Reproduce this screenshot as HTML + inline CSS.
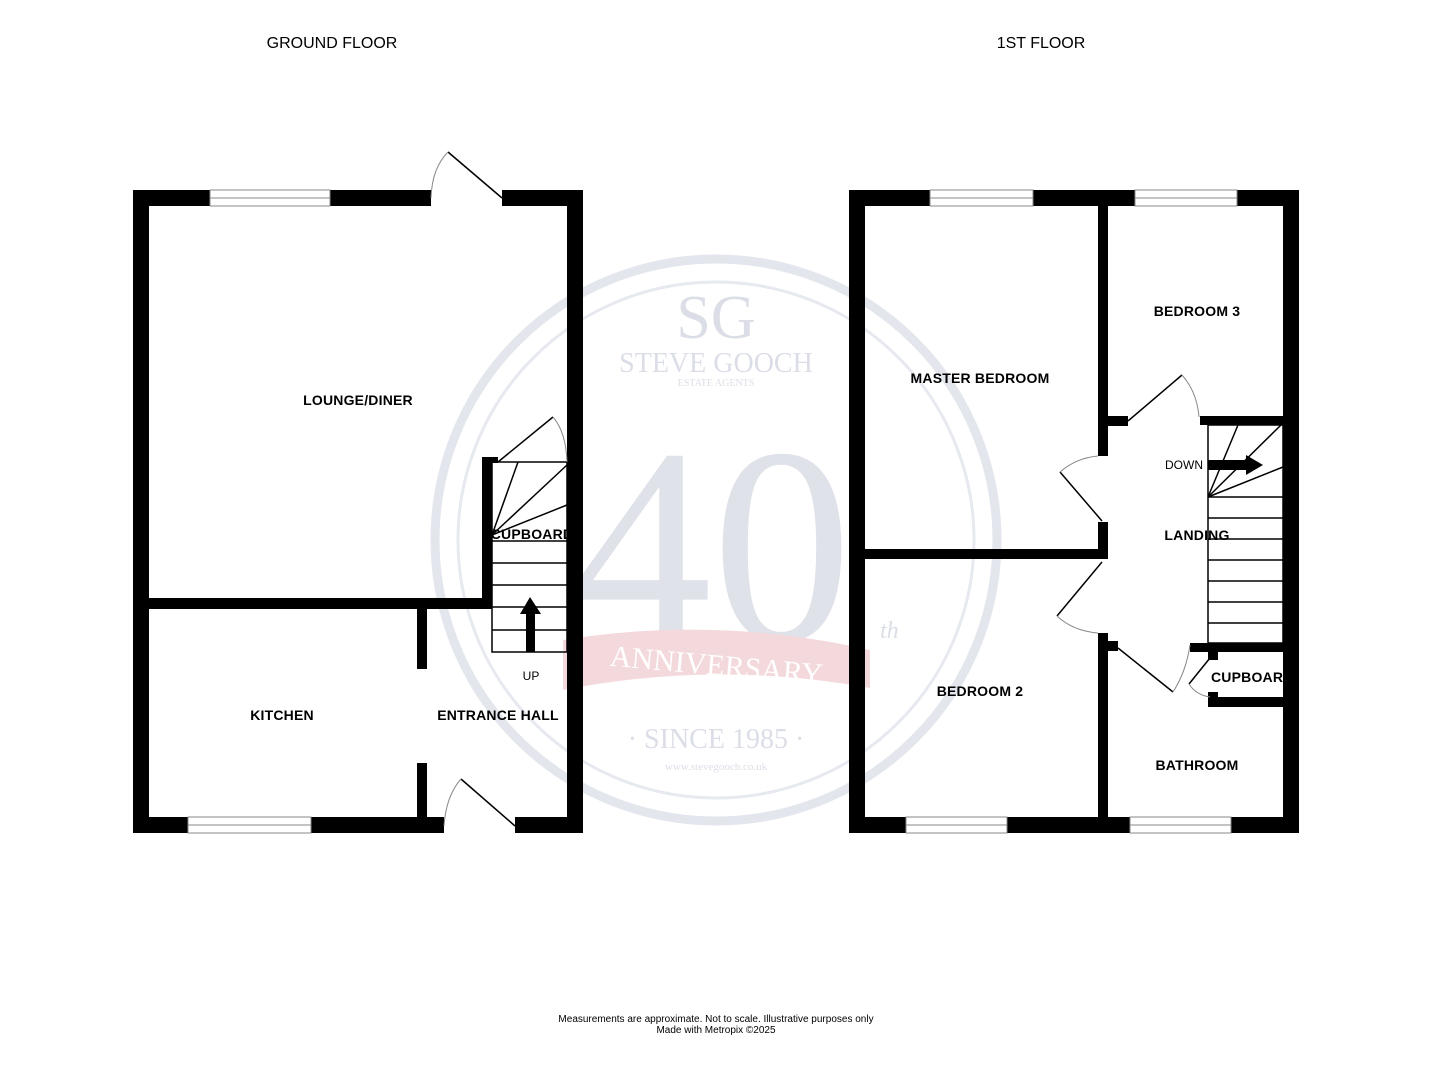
<!DOCTYPE html>
<html><head><meta charset="utf-8"><style>
html,body{margin:0;padding:0;background:#fff;}
svg{display:block;}
.s{font-family:"Liberation Sans",sans-serif;}
.b{font-family:"Liberation Sans",sans-serif;font-weight:bold;font-size:14px;fill:#000;letter-spacing:0.2px;}
.w{font-family:"Liberation Serif",serif;fill:#d6d9e3;}
</style></head><body>
<svg width="1432" height="1080" viewBox="0 0 1432 1080" xmlns="http://www.w3.org/2000/svg">
<rect width="1432" height="1080" fill="#fff"/>
<!-- watermark -->
<g opacity="0.85">
<circle cx="716" cy="540" r="281" fill="none" stroke="#dfe2ea" stroke-width="9"/>
<circle cx="716" cy="540" r="258" fill="none" stroke="#e3e6ee" stroke-width="3"/>
<text class="w" x="716" y="338" text-anchor="middle" style="font-family:'Liberation Serif',serif;font-size:62px">SG</text>
<text class="w" x="716" y="372" text-anchor="middle" style="font-family:'Liberation Serif',serif;font-size:28px">STEVE GOOCH</text>
<text class="w" x="716" y="386" text-anchor="middle" style="font-family:'Liberation Serif',serif;font-size:10px">ESTATE AGENTS</text>
<text class="w" x="712" y="640" text-anchor="middle" style="font-family:'Liberation Serif',serif;font-size:280px;fill:#dadde6">40</text>
<path d="M563 640 Q716 615 870 650 L870 688 Q716 660 563 690 Z" fill="#f2d3d7"/>
<text x="716" y="675" text-anchor="middle" style="font-family:'Liberation Serif',serif;font-size:30px;fill:#fff" transform="rotate(5 716 670)">ANNIVERSARY</text>
<text class="w" x="716" y="748" text-anchor="middle" style="font-family:'Liberation Serif',serif;font-size:28px">· SINCE 1985 ·</text>
<text class="w" x="716" y="770" text-anchor="middle" style="font-family:'Liberation Serif',serif;font-size:11px">www.stevegooch.co.uk</text>
<text class="w" x="880" y="638" style="font-family:'Liberation Serif',serif;font-style:italic;font-size:24px">th</text>
</g>

<text class="s" x="332" y="48" text-anchor="middle" style="font-size:16px">GROUND FLOOR</text>
<text class="s" x="1041" y="48" text-anchor="middle" style="font-size:16px">1ST FLOOR</text>

<!-- GROUND FLOOR -->
<g fill="#000">
<rect x="133" y="190" width="298" height="16"/>
<rect x="502" y="190" width="81" height="16"/>
<rect x="133" y="190" width="16" height="643"/>
<rect x="567" y="190" width="16" height="643"/>
<rect x="133" y="817" width="311" height="16"/>
<rect x="515" y="817" width="68" height="16"/>
<rect x="149" y="598" width="343" height="11"/>
<rect x="482" y="457" width="10" height="152"/>
<rect x="482" y="457" width="16" height="6"/>
<rect x="417" y="609" width="10" height="60"/>
<rect x="417" y="763" width="10" height="54"/>
</g>
<g fill="#fff" stroke="#888" stroke-width="1">
<rect x="210" y="190" width="120" height="16"/><line x1="210" y1="198" x2="330" y2="198"/>
<rect x="188" y="817" width="123" height="16"/><line x1="188" y1="825" x2="311" y2="825"/>
</g>
<g stroke="#000" stroke-width="1.5" fill="none">
<line x1="502" y1="198" x2="448" y2="152"/>
<line x1="515" y1="826" x2="461" y2="779"/>
<line x1="498" y1="462" x2="553" y2="417"/>
<rect x="492" y="462" width="75" height="190"/>
<line x1="492" y1="541" x2="567" y2="541"/>
<line x1="492" y1="563" x2="567" y2="563"/>
<line x1="492" y1="585" x2="567" y2="585"/>
<line x1="492" y1="607" x2="567" y2="607"/>
<line x1="492" y1="630" x2="567" y2="630"/>
<line x1="492" y1="535" x2="518" y2="462"/>
<line x1="492" y1="535" x2="567" y2="465"/>
<line x1="492" y1="535" x2="567" y2="505"/>
</g>
<g stroke="#888" stroke-width="1" fill="none">
<path d="M448 152 Q432 168 431 198"/>
<path d="M461 779 Q446 796 444 826"/>
<path d="M553 417 Q566 432 567 462"/>
</g>
<rect x="526" y="612" width="9" height="40" fill="#000"/>
<polygon points="520,614 530,597 541,614" fill="#000"/>

<text class="b" x="358" y="405" text-anchor="middle">LOUNGE/DINER</text>
<text class="b" x="532" y="539" text-anchor="middle">CUPBOARD</text>
<text class="s" x="531" y="680" text-anchor="middle" style="font-size:12px">UP</text>
<text class="b" x="282" y="720" text-anchor="middle">KITCHEN</text>
<text class="b" x="498" y="720" text-anchor="middle">ENTRANCE HALL</text>

<!-- FIRST FLOOR -->
<g fill="#000">
<rect x="849" y="190" width="450" height="16"/>
<rect x="849" y="190" width="16" height="643"/>
<rect x="1283" y="190" width="16" height="643"/>
<rect x="849" y="817" width="450" height="16"/>
<rect x="1098" y="206" width="10" height="250"/>
<rect x="1098" y="522" width="10" height="34"/>
<rect x="1098" y="633" width="10" height="184"/>
<rect x="1108" y="416" width="20" height="10"/>
<rect x="1108" y="641" width="10" height="10"/>
<rect x="865" y="549" width="243" height="10"/>
<rect x="1200" y="416" width="83" height="9"/>
<rect x="1190" y="643" width="93" height="9"/>
<rect x="1208" y="652" width="10" height="8"/>
<rect x="1208" y="697" width="75" height="10"/>
<rect x="1208" y="692" width="10" height="10"/>
</g>
<g fill="#fff" stroke="#888" stroke-width="1">
<rect x="930" y="190" width="103" height="16"/><line x1="930" y1="198" x2="1033" y2="198"/>
<rect x="1135" y="190" width="102" height="16"/><line x1="1135" y1="198" x2="1237" y2="198"/>
<rect x="906" y="817" width="101" height="16"/><line x1="906" y1="825" x2="1007" y2="825"/>
<rect x="1130" y="817" width="101" height="16"/><line x1="1130" y1="825" x2="1231" y2="825"/>
</g>
<g stroke="#000" stroke-width="1.5" fill="none">
<line x1="1128" y1="421" x2="1182" y2="375"/>
<line x1="1102" y1="521" x2="1060" y2="472"/>
<line x1="1102" y1="562" x2="1057" y2="616"/>
<line x1="1118" y1="648" x2="1173" y2="692"/>
<line x1="1214" y1="653" x2="1189" y2="684"/>
<rect x="1208" y="425" width="75" height="218"/>
<line x1="1208" y1="497" x2="1283" y2="497"/>
<line x1="1208" y1="518" x2="1283" y2="518"/>
<line x1="1208" y1="539" x2="1283" y2="539"/>
<line x1="1208" y1="560" x2="1283" y2="560"/>
<line x1="1208" y1="581" x2="1283" y2="581"/>
<line x1="1208" y1="602" x2="1283" y2="602"/>
<line x1="1208" y1="623" x2="1283" y2="623"/>
<line x1="1208" y1="497" x2="1238" y2="425"/>
<line x1="1208" y1="497" x2="1281" y2="425"/>
<line x1="1208" y1="497" x2="1283" y2="467"/>
</g>
<g stroke="#888" stroke-width="1" fill="none">
<path d="M1182 375 Q1197 392 1199 417"/>
<path d="M1060 472 Q1076 458 1098 456"/>
<path d="M1057 616 Q1073 631 1098 633"/>
<path d="M1173 692 Q1186 672 1190 645"/>
<path d="M1189 684 Q1196 695 1210 697"/>
</g>
<rect x="1208" y="460" width="40" height="10" fill="#000"/>
<polygon points="1246,455 1263,465 1246,475" fill="#000"/>

<text class="b" x="1197" y="316" text-anchor="middle">BEDROOM 3</text>
<text class="b" x="980" y="383" text-anchor="middle">MASTER BEDROOM</text>
<text class="s" x="1184" y="469" text-anchor="middle" style="font-size:12px">DOWN</text>
<text class="b" x="1197" y="540" text-anchor="middle">LANDING</text>
<text class="b" x="980" y="696" text-anchor="middle">BEDROOM 2</text>
<text class="b" x="1211" y="682">CUPBOAR</text>
<text class="b" x="1197" y="770" text-anchor="middle">BATHROOM</text>

<text class="s" x="716" y="1022" text-anchor="middle" style="font-size:10px">Measurements are approximate.  Not to scale.  Illustrative purposes only</text>
<text class="s" x="716" y="1033" text-anchor="middle" style="font-size:10px">Made with Metropix ©2025</text>
</svg>
</body></html>
